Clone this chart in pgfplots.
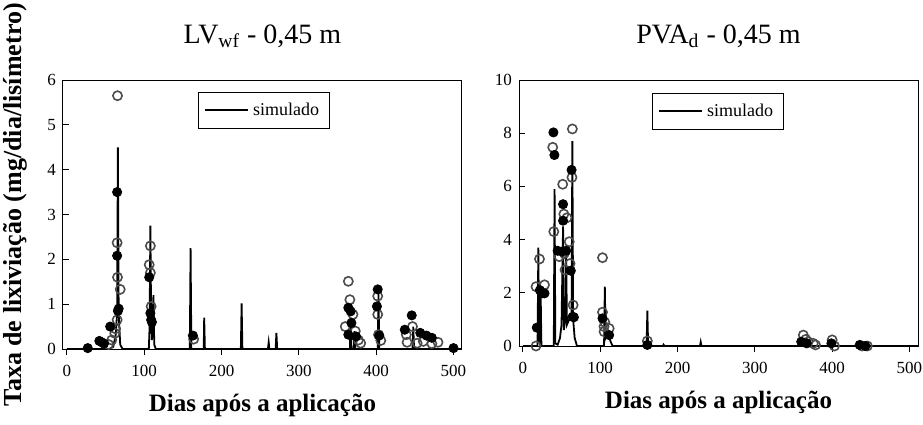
\documentclass[border=0pt]{standalone}
\usepackage{pgfplots}
\pgfplotsset{compat=1.18}
\usepackage{fontspec}
\setmainfont{Liberation Serif}

\pgfplotsset{
  panel/.style={
    scale only axis,
    width=199.5pt,
    xmin=-5, xmax=511,
    ymin=0,
    xtick={0,100,200,300,400,500},
    xtick pos=bottom, ytick pos=left,
    xtick align=outside, ytick align=inside,
    major tick length=3pt,
    axis line style={line width=0.5pt},
    tick style={black, line width=0.5pt},
    /pgf/number format/assume math mode=true,
    ticklabel style={font=\fontsize{8.5}{10}\selectfont},
    xticklabel style={yshift=-1.5pt},
    title style={at={([yshift=12.5pt]axis description cs:0.5,1)}, anchor=base, font=\fontsize{14}{16}\selectfont},
    xlabel style={at={([yshift=-31pt]axis description cs:0.5,0)}, anchor=base, font=\bfseries\fontsize{12.5}{14}\selectfont},
    legend cell align=left,
    legend style={draw=black, line width=0.5pt, font=\fontsize{9}{11}\selectfont, anchor=north west, inner xsep=3pt, inner ysep=3pt},
    legend image code/.code={\draw[#1] (0pt,0pt) -- (21.5pt,0pt);},
  },
  obsfill/.style={only marks, mark=*, mark size=2.3pt, mark options={draw=black, fill=black}, forget plot},
  obsopen/.style={only marks, mark=o, mark size=2.3pt, mark options={draw=black!70, fill=white, line width=0.8pt}, forget plot},
  sim/.style={black, line width=0.9pt, no marks},
}

\begin{document}
\begin{tikzpicture}
\useasboundingbox (-31.5pt,-37.5pt) rectangle (430pt,174.5pt);

% ---------------- Left panel ----------------
\begin{axis}[panel,
  height=134.5pt,
  ymax=6, ytick={0,1,2,3,4,5,6},
  title={LV\textsubscript{wf} - 0,45 m},
  xlabel={Dias após a aplicação},
  ylabel={Taxa de lixiviação (mg/dia/lisímetro)},
  ylabel style={at={([xshift=-24pt]axis description cs:0,0.535)}, anchor=center, font=\bfseries\fontsize{13}{15}\selectfont},
  legend style={at={(0.338,0.955)}},
]
\addplot[sim] coordinates {
 (0,0) (55,0) (60,0.05) (63,0.3) (65,0.8) (66,4.5) (67,0.8) (69,0.1) (72,0)
 (106,0) (107,0.5) (108,2.75) (109,0.6) (110,0.2) (112,1.2) (113,0.1) (115,0)
 (159,0) (160,2.25) (161,0) (177,0) (177.6,0.7) (178.5,0) (225,0) (226,1.02) (227,0)
 (260,0) (261,0.15) (262,0) (270,0) (271,0.36) (272,0)
 (366,0) (367,0.7) (368,0) (371,0) (372,0.4) (373,0)
 (402,0) (403,1.25) (404,0) (447,0) (448,0.5) (449,0) (511,0)};
\addlegendentry{simulado}
\addplot[obsopen] coordinates {
 (54,0.1) (58,0.2) (62,0.35) (63,0.45) (65,0.65) (65.5,5.65) (65,2.37) (65.5,1.6) (69,1.33)
 (108,2.3) (106.5,1.88) (108,1.7) (109,0.95)
 (164,0.22)
 (364,1.51) (366,1.1) (370,0.77) (360,0.5) (373,0.4) (377,0.2) (380,0.13)
 (402,1.18) (402,0.77) (403,0.32) (406,0.19)
 (447,0.5) (439,0.32) (440,0.15) (453,0.13) (461,0.17) (472,0.12) (480,0.15)};
\addplot[obsfill] coordinates {
 (27,0.02) (42,0.18) (45,0.15) (48,0.12) (56,0.5) (65,3.5) (65,2.08) (67,0.9) (66,0.85)
 (106.5,1.6) (108,0.8) (109,0.65) (110,0.6)
 (163,0.3)
 (364,0.92) (367,0.84) (368,0.58) (364,0.32) (374,0.28)
 (402,1.33) (401,0.95) (404,0.3)
 (446,0.75) (437,0.43) (457,0.36) (465,0.3) (472,0.25) (500,0.02)};
\end{axis}

% ---------------- Right panel ----------------
\begin{axis}[panel,
  at={(228pt,1.5pt)},
  height=133pt,
  ymax=10, ytick={0,2,4,6,8,10},
  title={PVA\textsubscript{d} - 0,45 m},
  xlabel={Dias após a aplicação},
  legend style={at={(0.333,0.951)}},
]
\addplot[sim] coordinates {
 (0,0) (19,0) (20,3.7) (21,0.2) (22,0.1) (23,2.0) (24,0) (40,0) (41,5.9) (42,0.1)
 (45,0.05) (48,0.3) (50,0.8) (52,4.5) (53,0.6) (55,1.0) (56,3.4) (57,0.8) (60,1.0)
 (63,1.2) (64,7.7) (65,1.0) (67,0.3) (70,0)
 (105,0) (106,2.23) (107,0.3) (110,0.5) (113,0.2) (116,0)
 (160,0) (161,1.33) (162,0) (181,0) (182,0.05) (183,0) (229,0) (230,0.15) (231,0) (511,0)};
\addlegendentry{simulado}
\addplot[obsopen] coordinates {
 (17,0.0) (17,2.23) (21.5,3.27) (28,2.3) (38.6,7.47) (40,4.3) (47,3.36) (51.5,6.08)
 (53,4.96) (57,4.82) (53.6,3.48) (54.5,2.86) (61,3.1) (64,8.16) (63.5,6.34) (60,3.92) (65,1.54)
 (103,3.32) (103,1.27) (105,0.73) (106,0.89) (111.6,0.66) (105,0.54)
 (161,0.19)
 (362.7,0.41) (366,0.25) (369,0.16) (375.5,0.1) (378.5,0.04)
 (400,0.23) (403,0.0) (438.6,0.0) (445.5,0.0)};
\addplot[obsfill] coordinates {
 (18,0.69) (25,1.98) (28,1.98) (22,2.1) (39.5,8.03) (40.8,7.18) (45,3.58) (52,5.33)
 (52,4.71) (50.6,3.55) (56,3.58) (62,2.83) (63,6.62) (64.4,1.1) (66,1.08)
 (103,1.04) (111.6,0.41)
 (161,0.04)
 (360,0.16) (367,0.1) (399,0.1) (435.6,0.04) (443,0.0)};
\end{axis}
\end{tikzpicture}
\end{document}
